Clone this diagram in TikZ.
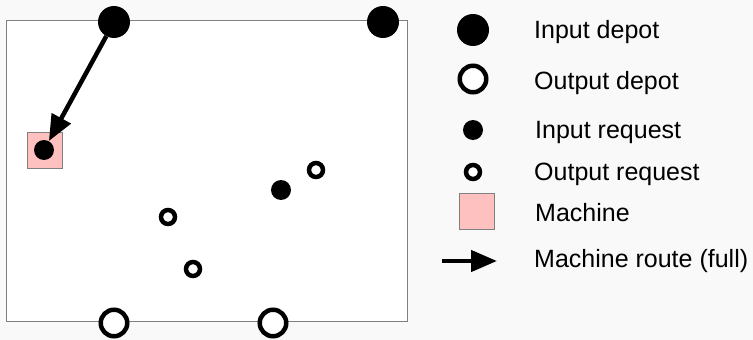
\documentclass[tikz,border=0pt]{standalone}
\usepackage{fontspec}
\setmainfont{Liberation Sans}
\usepackage{xcolor}
\usetikzlibrary{arrows.meta, positioning}
\definecolor{machpink}{RGB}{255,192,192}
\definecolor{bggray}{RGB}{249,249,249}

\begin{document}
\begin{tikzpicture}[
  x=1pt, y=-1pt,
  every node/.style={font=\fontsize{25}{29}\selectfont},
  indepot/.style={circle, fill=black, minimum size=32pt, inner sep=0pt},
  outdepot/.style={circle, draw=black, line width=4.5pt, fill=white,
                   minimum size=26.5pt, inner sep=0pt},
  inreq/.style={circle, fill=black, minimum size=20pt, inner sep=0pt},
  outreq/.style={circle, draw=black, line width=4.5pt, fill=white,
                 minimum size=14pt, inner sep=0pt},
  mach/.style={rectangle, draw=gray, line width=1pt, fill=machpink,
               minimum width=35pt, minimum height=36pt, inner sep=0pt},
  arr/.style={-{Triangle[length=26pt, width=21pt]}, line width=4.5pt},
  lbl/.style={anchor=base west, inner sep=0pt},
]
% background and field
\fill[bggray] (0,0) rectangle (753,340);
\draw[gray, line width=1pt, fill=white] (6,20) rectangle (407,321);

% depots on the field border
\node[indepot] (D1) at (114,22) {};
\node[indepot] (D2) at (383,22) {};
\node[outdepot] (O1) at (114,323) {};
\node[outdepot] (O2) at (273,323) {};

% machine and requests
\node[mach] (M) at (44.5,150) {};
\node[inreq] (R0) at (44,150) {};
\node[inreq] (R1) at (281,190) {};
\node[outreq] (Q1) at (316,170) {};
\node[outreq] (Q2) at (168,217) {};
\node[outreq] (Q3) at (193,269) {};

% route of the machine
\draw[arr] (D1) -- (R0);

% legend
\node[indepot] (LD1) at (473,30) {};
\node[outdepot] (LO1) at (473,79) {};
\node[inreq] (LR) at (473,130) {};
\node[outreq] (LQ) at (473,172) {};
\node[mach] (LM) at (477,211) {};
\coordinate (LA1) at (442,261);
\coordinate (LA2) at (497,261);
\draw[arr] (LA1) -- (LA2);

\node[lbl] at (534,38) {Input depot};
\node[lbl] at (534,89) {Output depot};
\node[lbl] at (535,138) {Input request};
\node[lbl] at (534,180) {Output request};
\node[lbl] at (535,221) {Machine};
\node[lbl] at (534,267) {Machine route (full)};
\end{tikzpicture}
\end{document}
